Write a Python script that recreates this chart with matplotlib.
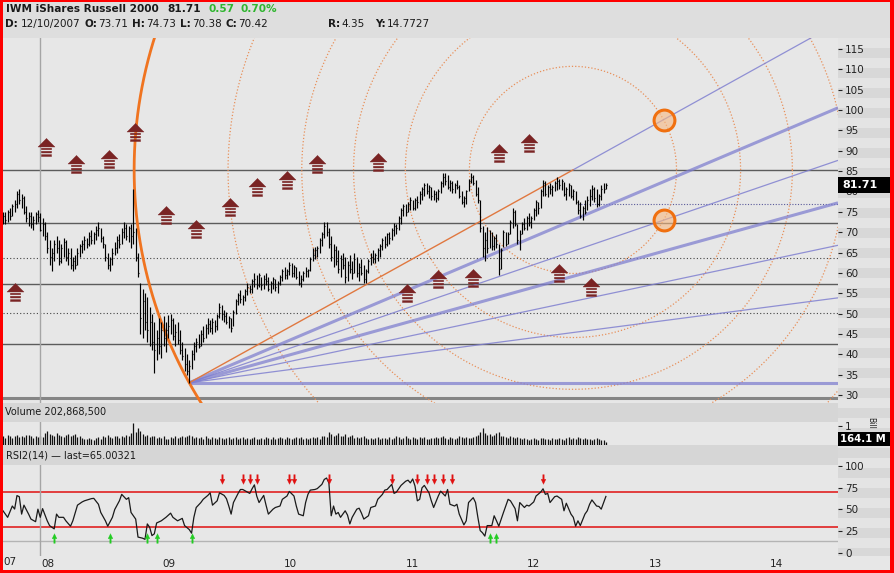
import numpy as np
import pandas as pd
import matplotlib
matplotlib.use('Agg')
import matplotlib.pyplot as plt
import matplotlib.dates as mdates
from matplotlib.path import Path
from matplotlib.patches import Rectangle
from matplotlib.markers import MarkerStyle

plt.rcParams['font.family'] = ['DejaVu Sans']

# ---------------- data (weekly bars) ----------------
first_bar_date = '2007-08-20'
high = [75, 75, 75.5, 76, 77, 78, 80, 80.5, 79.5, 79,
        76.5, 75, 75, 74, 75, 75.5, 74.73, 73.5, 72.5, 70,
        68, 66, 68, 69, 68, 67, 68.5, 68, 66, 66,
        64, 64.5, 66, 67, 68, 69, 68.5, 70, 70.5, 70,
        71.5, 72.5, 71, 69, 67, 65, 64, 66, 67.5, 69,
        69.5, 71, 72.5, 72, 71.5, 72, 80.5, 71, 65, 57.5,
        56, 55, 54, 51.5, 50, 48, 46, 49, 48, 49.5,
        48, 49.6, 50, 49, 47.5, 48, 46, 43, 41.5, 40,
        38.5, 41, 43, 44, 45, 46, 47, 47.5, 49, 48.5,
        49, 48.5, 50, 52.6, 52, 51, 50.5, 49.5, 49, 51,
        53.5, 55, 55.8, 54.5, 56, 57.5, 57, 58.5, 60, 59.5,
        60, 59, 59.5, 60, 59, 58, 59, 58.5, 58, 59.5,
        61, 61.4, 61, 62.7, 62.5, 62, 61.5, 60.5, 59.5, 60.5,
        61.4, 61, 64, 66, 66.4, 66.5, 68.5, 70, 72.5, 72.5,
        71, 69, 67, 66.5, 65.5, 64.5, 65, 64, 63, 64.5,
        63, 64.9, 64, 62.5, 63.5, 62, 61, 63.5, 65, 65.6,
        65, 66, 67, 68.5, 69, 69.8, 70, 71, 72.2, 72,
        74, 76, 77, 77, 77.5, 78.6, 78, 78.5, 79, 80,
        81, 82, 82, 81.5, 81, 80.4, 80, 80.5, 82.5, 84.5,
        84.5, 84, 82.8, 82.5, 82, 82.8, 81.5, 80, 79, 80.4,
        83, 84.5, 84, 82.8, 81, 78, 71.5, 70, 71.3, 70.5,
        70, 69, 69.5, 67, 66, 70.5, 70, 70, 73, 76,
        75.5, 72, 70.5, 72.5, 73.5, 74, 74.7, 74, 76, 78,
        77.5, 80.5, 82.8, 82.5, 81.5, 82, 81.5, 82.5, 83.6, 83,
        83, 82.3, 81, 82, 81.5, 80.5, 80, 78, 77.5, 76.5,
        78, 79, 80.5, 81.5, 81, 80.5, 79.5, 81.5, 82, 82]
low = [72, 72, 72.5, 73, 74, 75, 76, 77, 76, 74.5,
       72.5, 71.5, 71, 70.5, 72, 72.5, 70.38, 69, 68, 65,
       62, 60.5, 63, 65, 62, 62.5, 64, 63, 62, 61,
       60.5, 61, 62, 64, 65, 65.5, 66, 66.5, 67, 67,
       68, 69, 67.5, 66, 63, 61, 60.5, 62, 64.5, 65,
       66, 67, 68.5, 68, 67.5, 66, 67, 63, 59, 45,
       44, 46, 43, 42, 41, 35.5, 38.5, 40, 39, 42,
       40.5, 44, 45, 43.5, 42, 42.5, 40, 38.5, 36, 35,
       33, 36.5, 38.5, 40.5, 41.5, 42, 43, 44, 45, 45.5,
       45, 45.5, 46, 49, 48.5, 48, 47.5, 46.5, 45.5, 47,
       50, 52, 52.5, 52, 53, 54.5, 55, 55, 56.5, 56,
       56.5, 55.8, 56, 57, 55.5, 55, 56, 55.5, 55, 57,
       58, 58.5, 58.5, 59.5, 59, 59, 58.5, 57, 56.5, 58,
       59, 59, 60.5, 63, 63.5, 64, 65, 66.5, 68.5, 69,
       66, 63, 61.5, 62, 60, 59, 61, 57.5, 58, 60,
       58.5, 60, 59, 58, 59.5, 57.5, 57.5, 60, 62, 62.4,
       62.5, 63, 64, 65.5, 66, 66.5, 67, 68, 69, 69.5,
       70.5, 72, 74, 74, 75, 75.5, 75.4, 75.5, 76, 77,
       78, 79, 79.5, 78.5, 78, 78, 77.5, 78, 79.6, 81,
       81.5, 80.5, 80, 79.6, 79.6, 80.5, 78.5, 77, 76.2, 77,
       80, 82, 81.5, 79, 77.2, 70, 64, 63, 65, 66,
       65.6, 65.6, 66, 59.5, 61, 66.4, 66.5, 67, 69.5, 71,
       71.5, 67, 65.6, 69.5, 70.5, 70.5, 71.5, 71, 73, 74,
       74.5, 76, 79, 79, 78.6, 79.5, 79, 80, 80.4, 80.5,
       80.4, 79, 78, 79, 78.5, 78, 77, 74.5, 73.5, 73,
       74.5, 75.5, 76.5, 78, 77.5, 76.2, 76.5, 78, 79.6, 80.5]
close = [74, 73, 75, 74, 76.5, 77, 79.5, 78, 78.5, 75,
         73.5, 74, 72, 73, 74.5, 73.7, 70.42, 72, 69, 66,
         64, 65, 67, 66, 63, 66, 67.5, 64, 65, 62,
         63, 62, 65, 66.5, 67, 68, 67, 69, 68, 69.5,
         70.5, 71, 68.5, 67, 64, 62, 63.5, 65, 66, 68,
         67, 70, 71, 69, 71, 69, 70, 64, 60, 49,
         53, 48, 46, 48, 43, 41, 44, 42, 46, 44,
         46, 47, 48.5, 44.5, 45.5, 43.5, 41, 39.5, 37.5, 36,
         37, 40, 42, 43, 42, 45, 44, 46.5, 47.5, 46.5,
         48, 47, 49.5, 51.5, 50, 49.5, 48, 49, 46.5, 50.5,
         53, 54.5, 53.5, 54, 55.5, 56.5, 56, 58, 58.5, 57,
         59.5, 57, 58.5, 58, 56, 57.5, 58.5, 56.5, 57.5, 59,
         60.5, 59.5, 60.5, 62, 60, 61.5, 59, 57.5, 58.5, 60,
         60.5, 60.8, 63.5, 64.5, 65.5, 66, 68, 69.5, 71.5, 70,
         67, 64, 65.5, 63, 61, 63.5, 62, 59, 62, 61,
         60, 63.5, 60, 61.5, 60, 58.5, 60.5, 63, 64, 63.5,
         64.5, 65.5, 66.5, 68, 67, 69.5, 68.5, 70.5, 71.5, 71,
         73.5, 75.5, 76.5, 75, 77, 78, 76, 78, 77.5, 79.5,
         80.5, 81.5, 80, 81, 79, 79.5, 78.5, 80, 82, 83.5,
         82.5, 81, 82, 80.5, 81.5, 81, 79, 77.5, 78.5, 80,
         82.5, 83.5, 82, 79.5, 78, 71, 66, 68, 66, 69.5,
         66.5, 68.5, 67, 61, 65.5, 70, 67, 69.5, 72.5, 75,
         72, 68, 69.5, 72, 71, 73.5, 72.5, 73.5, 75.5, 77.5,
         76, 80, 82, 79.5, 81, 80.5, 81, 82, 82.5, 81.5,
         82.5, 79.5, 80.5, 81.5, 79, 80, 77.5, 75.5, 74, 76,
         75, 78, 79, 80.5, 78.5, 77, 79, 80.5, 80.5, 81.71]
volume_bn = [0.45, 0.38, 0.52, 0.50, 0.35, 0.48, 0.55, 0.40, 0.50, 0.42,
             0.55, 0.52, 0.45, 0.38, 0.50, 0.42, 0.48, 0.40, 0.62, 0.74,
             0.60, 0.55, 0.50, 0.62, 0.55, 0.48, 0.42, 0.55, 0.60, 0.45,
             0.52, 0.58, 0.40, 0.45, 0.35, 0.30, 0.32, 0.38, 0.30, 0.28,
             0.35, 0.42, 0.30, 0.45, 0.40, 0.52, 0.42, 0.38, 0.50, 0.45,
             0.35, 0.48, 0.40, 0.55, 0.45, 0.62, 1.15, 0.68, 0.92, 0.72,
             0.60, 0.50, 0.55, 0.42, 0.50, 0.45, 0.38, 0.42, 0.35, 0.48,
             0.30, 0.32, 0.40, 0.36, 0.45, 0.38, 0.42, 0.50, 0.40, 0.48,
             0.52, 0.45, 0.38, 0.42, 0.35, 0.40, 0.32, 0.45, 0.38, 0.30,
             0.42, 0.36, 0.33, 0.40, 0.35, 0.30, 0.38, 0.42, 0.32, 0.36,
             0.40, 0.30, 0.35, 0.42, 0.33, 0.38, 0.30, 0.36, 0.44, 0.32,
             0.30, 0.38, 0.34, 0.42, 0.36, 0.30, 0.40, 0.33, 0.38, 0.44,
             0.35, 0.32, 0.40, 0.36, 0.30, 0.38, 0.42, 0.35, 0.40, 0.33,
             0.38, 0.30, 0.36, 0.40, 0.35, 0.40, 0.33, 0.45, 0.50, 0.42,
             0.68, 0.58, 0.48, 0.55, 0.62, 0.45, 0.50, 0.58, 0.40, 0.45,
             0.52, 0.38, 0.42, 0.36, 0.40, 0.45, 0.36, 0.33, 0.38, 0.30,
             0.35, 0.42, 0.32, 0.38, 0.36, 0.30, 0.40, 0.34, 0.38, 0.45,
             0.40, 0.33, 0.36, 0.48, 0.38, 0.32, 0.40, 0.35, 0.30, 0.42,
             0.36, 0.40, 0.34, 0.30, 0.38, 0.35, 0.42, 0.36, 0.40, 0.45,
             0.38, 0.33, 0.42, 0.36, 0.30, 0.38, 0.45, 0.40, 0.36, 0.42,
             0.38, 0.35, 0.42, 0.48, 0.55, 0.70, 0.88, 0.62, 0.52, 0.58,
             0.45, 0.55, 0.62, 0.68, 0.50, 0.45, 0.42, 0.38, 0.45, 0.40,
             0.36, 0.42, 0.35, 0.33, 0.38, 0.30, 0.28, 0.33, 0.36, 0.30,
             0.28, 0.35, 0.38, 0.30, 0.33, 0.28, 0.36, 0.32, 0.30, 0.38,
             0.33, 0.28, 0.35, 0.40, 0.32, 0.36, 0.30, 0.42, 0.36, 0.33,
             0.38, 0.30, 0.34, 0.28, 0.32, 0.36, 0.30, 0.27, 0.25, 0.1641]
# RSI2(14): (bar index, value)
rsi_points = [(0, 48.5), (2, 41), (4, 54), (5, 50.5), (6, 66), (7, 64.7), (8, 44.7), (9, 55), (11, 44.7),
              (12, 39), (14, 36), (15, 50.4), (16, 41), (17, 51), (19, 37), (20, 31.5), (22, 27.7),
              (23, 44.7), (24, 41), (26, 41), (27, 37), (29, 30.8), (30, 37), (32, 55), (34, 58.7),
              (35, 60), (37, 61.7), (38, 62.5), (39, 62.8), (41, 56), (42, 46.6), (44, 37), (45, 30.8),
              (47, 41), (48, 50), (50, 60), (51, 67.4), (53, 61.7), (54, 63.6), (55, 46.6), (57, 39),
              (58, 18.3), (60, 17), (61, 15.7), (62, 33.4), (63, 29.6), (64, 20), (65, 22), (66, 34.5),
              (68, 37), (70, 41), (72, 45.8), (73, 41), (75, 37), (77, 39.8), (78, 31.5), (80, 27),
              (81, 22.8), (82, 41), (83, 52.3), (85, 58), (86, 61.7), (88, 66.2), (89, 69.2), (90, 55),
              (92, 60), (93, 69.2), (95, 66.2), (96, 62.4), (97, 54), (98, 44.7), (99, 58), (101, 68.5),
              (102, 73), (103, 73), (105, 70), (106, 68.5), (107, 73.8), (108, 78.3), (109, 65.5),
              (110, 58), (112, 66.2), (113, 55), (114, 44.7), (116, 50.4), (117, 52.3), (119, 54),
              (120, 61.7), (122, 65.5), (123, 70.8), (125, 65.5), (126, 54), (127, 44.7), (129, 42.8),
              (130, 58), (131, 67.4), (132, 72.3), (134, 73), (135, 74), (137, 78.9), (138, 84.5),
              (139, 86.2), (140, 80.6), (141, 42.8), (142, 54), (143, 44.7), (144, 46.6), (145, 41),
              (147, 48.5), (148, 43.6), (149, 33.4), (150, 41), (152, 50.4), (153, 51.5), (154, 45.8),
              (155, 39), (157, 42.8), (158, 52.3), (160, 54), (161, 61.7), (163, 67.4), (164, 72.3),
              (165, 73), (167, 78.9), (168, 68.5), (169, 70), (171, 77.7), (173, 82.5), (174, 83.7),
              (175, 80.6), (176, 85.1), (177, 77), (178, 60), (179, 61.7), (180, 74.9), (181, 77.7),
              (183, 69.2), (184, 60), (185, 52.3), (187, 65.5), (188, 71.1), (190, 65.5), (191, 73),
              (192, 56), (194, 54), (195, 56), (196, 44.7), (198, 32.3), (199, 37), (200, 58),
              (202, 63.6), (203, 58), (204, 41), (205, 25.8), (206, 23.2), (207, 19.4), (208, 31.5),
              (210, 31.5), (211, 42.8), (212, 37), (213, 30.8), (215, 46.6), (217, 61.7), (218, 60),
              (220, 51), (221, 37), (222, 58), (224, 52.3), (225, 55), (226, 54), (228, 58.7),
              (229, 65.5), (231, 70), (232, 73.8), (233, 67.4), (234, 68.5), (235, 58), (237, 64.7),
              (238, 65.5), (240, 61.7), (241, 48.5), (242, 57.2), (244, 44.7), (245, 41), (246, 30.8),
              (247, 37), (248, 31.5), (250, 44.7), (251, 48.5), (252, 56), (253, 61), (255, 54),
              (256, 53.5), (257, 50.4), (259, 65.0)]
rsi_sell_bars = [94, 103, 106, 109, 123, 125, 140, 167, 178, 182, 185, 189, 193, 232]
rsi_buy_bars = [22, 46, 62, 66, 81, 209, 212]
rsi_upper, rsi_lower, rsi_floor = 70, 30, 14

# signal (house) markers
sig_dates = ['2007-09-25', '2007-12-27', '2008-03-27', '2008-07-03', '2008-09-21', '2008-12-22',
             '2009-03-22', '2009-07-03', '2009-09-21', '2009-12-21', '2010-03-21', '2010-09-20',
             '2010-12-17', '2011-03-20', '2011-07-03', '2011-09-20', '2011-12-18', '2012-03-18',
             '2012-06-21']
sig_prices = [55.2, 91.0, 86.8, 88.0, 94.7, 74.1, 70.9, 76.2, 81.2, 82.7, 86.8, 87.3,
              55.0, 58.6, 58.8, 89.5, 92.0, 59.9, 56.5]

# drawing tools
solid_levels = [42.5, 57.2, 72.2, 85.3]
dotted_levels = [50.2, 63.6]
base_level = 29.2
last_level = 76.9
fib_center_date = '2012-04-29'
fib_center_price = 85.3
fan_ratios = [1.0, 0.764, 0.618, 0.5, 0.382, 0.236, 0.0]
fan_thick = [False, True, False, True, False, False, True]
circle_ratios = [0.236, 0.382, 0.5, 0.618, 0.786, 1.0]
crosshair_date = '2007-12-10'
year_labels = ['08', '09', '10', '11', '12', '13', '14']
price_ticks = list(range(30, 116, 5))
rsi_ticks = [0, 25, 50, 75, 100]

# ---------------- figure ----------------
W, H = 894, 573
fig = plt.figure(figsize=(W / 100, H / 100), dpi=100)
fig.patch.set_facecolor('#dedede')
PLOT_BG = '#e7e7e7'
BAND_BG = '#d6d6d6'


def rect(x0, y0, x1, y1, color, z=-1):
    fig.add_artist(Rectangle((x0 / W, 1 - y1 / H), (x1 - x0) / W, (y1 - y0) / H,
                             transform=fig.transFigure, facecolor=color,
                             edgecolor='none', zorder=z))


def add_ax(x0, y0, x1, y1):
    a = fig.add_axes([x0 / W, 1 - y1 / H, (x1 - x0) / W, (y1 - y0) / H])
    a.set_facecolor(PLOT_BG)
    for s in a.spines.values():
        s.set_visible(False)
    return a


def ftext(x, y, s, **kw):
    kw.setdefault('va', 'center')
    return fig.text(x / W, 1 - y / H, s, **kw)


# backgrounds
rect(0, 38, 894, 573, PLOT_BG, z=-2)
rect(3, 403, 838, 422, BAND_BG)
rect(3, 445, 838, 465, BAND_BG)
for k, y in enumerate(range(38, 556, 10)):
    rect(838, y, 890, min(y + 10, 556), '#e4e4e4' if k % 2 == 0 else '#d8d8d8')

bar_dates = pd.date_range(first_bar_date, periods=len(close), freq='7D')
xd = mdates.date2num(bar_dates.to_pydatetime())
x_left = mdates.date2num(pd.Timestamp('2007-08-20').to_pydatetime())
x_right = mdates.date2num(pd.Timestamp('2014-07-05').to_pydatetime())
x_cross = mdates.date2num(pd.Timestamp(crosshair_date).to_pydatetime())
high = np.array(high); low = np.array(low); close = np.array(close)

# ---------------- price panel ----------------
ax = add_ax(3, 38, 838, 403)
ax.set_xlim(x_left, x_right)
ax.set_ylim(28.03, 117.71)
ax.set_xticks([])
ax.yaxis.tick_right()
ax.set_yticks(price_ticks)
ax.tick_params(axis='y', labelsize=7.5, length=3, pad=2, colors='#222222', direction='out')

for lv in solid_levels:
    ax.axhline(lv, color='#5c5c5c', lw=1.0, zorder=1)
for lv in dotted_levels:
    ax.axhline(lv, color='#444444', lw=0.8, ls=(0, (1, 2)), zorder=1)
ax.axhline(base_level, color='#858585', lw=2.2, zorder=1)
ax.axvline(x_cross, color='#a5a5a5', lw=1, zorder=1)
ax.hlines(last_level, xd[247], x_right, color='#5a5a9a', lw=0.8, ls=(0, (1, 1.5)), zorder=2)

# fib anchors
i0 = int(np.argmin(low))
p_x, p_y = xd[i0], low[i0]
c_x = mdates.date2num(pd.Timestamp(fib_center_date).to_pydatetime())
c_y = fib_center_price

# fan lines
for f, thick in zip(fan_ratios, fan_thick):
    y_end = p_y + f * (c_y - p_y) * (x_right - p_x) / (c_x - p_x)
    x_start, y_start = (c_x, c_y) if f == 1.0 else (p_x, p_y)
    ax.plot([x_start, x_right], [y_start, y_end], color='#8080d0',
            lw=2.2 if thick else 0.9, alpha=0.75 if thick else 0.85,
            zorder=3, solid_capstyle='butt')
ax.plot([p_x, c_x], [p_y, c_y], color='#e07840', lw=1.0, zorder=3)

# fib circles (circular in screen space)
to_disp = ax.transData
inv = ax.transData.inverted()
cd = to_disp.transform((c_x, c_y))
pdisp = to_disp.transform((p_x, p_y))
R = np.hypot(*(cd - pdisp))
theta = np.linspace(0, 2 * np.pi, 1500)
for f in circle_ratios:
    pts = cd + f * R * np.column_stack([np.cos(theta), np.sin(theta)])
    d = inv.transform(pts)
    if f == 1.0:
        ax.plot(d[:, 0], d[:, 1], color='#f07420', lw=2.0, zorder=3)
    else:
        ax.plot(d[:, 0], d[:, 1], color='#e8905a', lw=0.9, ls=(0, (1, 1.6)), zorder=2)

# highlighted intersections of smallest circle with the 1.0 and 0.618 fan lines
hl = []
for f in (1.0, 0.618):
    q = to_disp.transform((c_x, p_y + f * (c_y - p_y)))
    u = (q - pdisp) / np.hypot(*(q - pdisp))
    w = pdisp - cd
    r = circle_ratios[0] * R
    b = np.dot(u, w)
    t = -b + np.sqrt(b * b - (np.dot(w, w) - r * r))
    hl.append(inv.transform(pdisp + t * u))
hl = np.array(hl)
ax.plot(hl[:, 0], hl[:, 1], 'o', ms=15, mfc=(0.97, 0.72, 0.5, 0.6), mec='#f07010', mew=2.2,
        zorder=7, ls='none')

# price bars
ax.vlines(xd, low, high, color='black', lw=0.85, zorder=5)
ax.hlines(close, xd, xd + 3.0, color='black', lw=0.85, zorder=5)

# house markers
def rect_poly(x0, y0, x1, y1):
    return [(x0, y0), (x1, y0), (x1, y1), (x0, y1), (x0, y0)]

polys = [[(-0.8, 0.05), (0, 0.86), (0.8, 0.05), (-0.8, 0.05), (-0.8, 0.05)],
         rect_poly(-0.48, -0.21, 0.48, -0.07),
         rect_poly(-0.48, -0.52, 0.48, -0.36),
         rect_poly(-0.48, -0.86, 0.48, -0.68)]
verts, codes = [], []
for pl in polys:
    verts += pl
    codes += [Path.MOVETO] + [Path.LINETO] * (len(pl) - 2) + [Path.CLOSEPOLY]
house = Path(verts, codes)
sx = mdates.date2num(pd.to_datetime(sig_dates).to_pydatetime())
ax.plot(sx, sig_prices, ls='none', marker=MarkerStyle(house), ms=13,
        mfc='#7a2424', mec='#7a2424', mew=0.3, zorder=8)

# last price box
yl = ax.transData.transform((x_left, close[-1]))[1]
ypix = H - yl
rect(838, ypix - 8, 890, ypix + 8, 'black', z=5)
ftext(842, ypix, f'{close[-1]:.2f}', color='white', fontsize=8, fontweight='bold', zorder=6)

# ---------------- volume panel ----------------
axv = add_ax(3, 422, 838, 445)
axv.set_xlim(x_left, x_right)
axv.set_ylim(0, 23 / 19)
axv.set_xticks([])
axv.yaxis.tick_right()
axv.set_yticks([1])
axv.tick_params(axis='y', labelsize=7.5, length=3, pad=2, colors='#222222')
axv.vlines(xd, 0, volume_bn, color='#111111', lw=0.9)
axv.axvline(x_cross, color='#a5a5a5', lw=1)
vy = H - axv.transData.transform((x_left, volume_bn[-1]))[1]
vy = min(vy, 439)
rect(838, vy - 7, 890, vy + 7, 'black', z=5)
ftext(840, vy, f'{volume_bn[-1] * 1000:.1f} M', color='white', fontsize=7.3, fontweight='bold', zorder=6)
ftext(871, 423, 'Bill', fontsize=5.5, rotation=270, ha='center', color='#222222')
ftext(5, 412, 'Volume 202,868,500', fontsize=7, color='#1a1a1a')

# ---------------- RSI panel ----------------
axr = add_ax(3, 465, 838, 556)
axr.set_xlim(x_left, x_right)
axr.set_ylim(-3.45, 101.15)
axr.yaxis.tick_right()
axr.set_yticks(rsi_ticks)
axr.tick_params(axis='y', labelsize=7.5, length=3, pad=2, colors='#222222')
year_pos = [mdates.date2num(pd.Timestamp(f'20{y}-01-01').to_pydatetime()) for y in year_labels]
axr.set_xticks(year_pos)
axr.set_xticklabels(year_labels)
axr.tick_params(axis='x', labelsize=7.5, length=0, pad=2, colors='#222222')
axr.axhline(rsi_upper, color='#e01010', lw=1.1)
axr.axhline(rsi_lower, color='#e01010', lw=1.1)
axr.axhline(rsi_floor, color='#b4b4b4', lw=1.0)
axr.axvline(x_cross, color='#a5a5a5', lw=1)
ri = [p[0] for p in rsi_points]
rv = [p[1] for p in rsi_points]
axr.plot(xd[ri], rv, color='#1a1a1a', lw=0.9)

down = Path([(-0.15, 1), (0.15, 1), (0.15, 0.05), (0.5, 0.05), (0, -1), (-0.5, 0.05), (-0.15, 0.05), (-0.15, 1)],
            [Path.MOVETO] + [Path.LINETO] * 6 + [Path.CLOSEPOLY])
up = Path([(x, -y) for x, y in down.vertices], down.codes)
axr.plot(xd[rsi_sell_bars], [85] * len(rsi_sell_bars), ls='none', marker=MarkerStyle(down),
         ms=7, mfc='#e01010', mec='#e01010', mew=0.2)
axr.plot(xd[rsi_buy_bars], [17] * len(rsi_buy_bars), ls='none', marker=MarkerStyle(up),
         ms=7, mfc='#22cc22', mec='#22cc22', mew=0.2)
ftext(6, 455, 'RSI2(14) \u2014 last=65.00321', fontsize=7, color='#1a1a1a')
ftext(3, 562, '07', fontsize=7.5, color='#222222', ha='left')

# ---------------- header ----------------
renderer = fig.canvas.get_renderer()


def seq(x, y, pieces, size=7.5):
    for s, bold, color, gap in pieces:
        t = ftext(x, y, s, fontsize=size, fontweight='bold' if bold else 'normal', color=color)
        x += t.get_window_extent(renderer).width + gap


DARK = '#1a1a1a'
GREEN = '#2fb52f'
seq(6, 9, [('IWM iShares Russell 2000', True, DARK, 9), ('81.71', True, DARK, 7),
           ('0.57', True, GREEN, 6), ('0.70%', True, GREEN, 0)], size=7.6)
seq(5, 24, [('D:', True, DARK, 3), ('12/10/2007', False, DARK, 4), ('O:', True, DARK, 1),
            ('73.71', False, DARK, 4), ('H:', True, DARK, 1), ('74.73', False, DARK, 4),
            ('L:', True, DARK, 1), ('70.38', False, DARK, 4), ('C:', True, DARK, 1),
            ('70.42', False, DARK, 0)])
seq(328, 24, [('R:', True, DARK, 1), ('4.35', False, DARK, 0)])
seq(375, 24, [('Y:', True, DARK, 1), ('14.7727', False, DARK, 0)])

# red frame
rect(0, 0, 894, 2, '#ff0000', z=10)
rect(0, 570, 894, 573, '#ff0000', z=10)
rect(0, 0, 3, 573, '#ff0000', z=10)
rect(890, 0, 894, 573, '#ff0000', z=10)

fig.savefig('out.png', dpi=100, facecolor=fig.get_facecolor())
